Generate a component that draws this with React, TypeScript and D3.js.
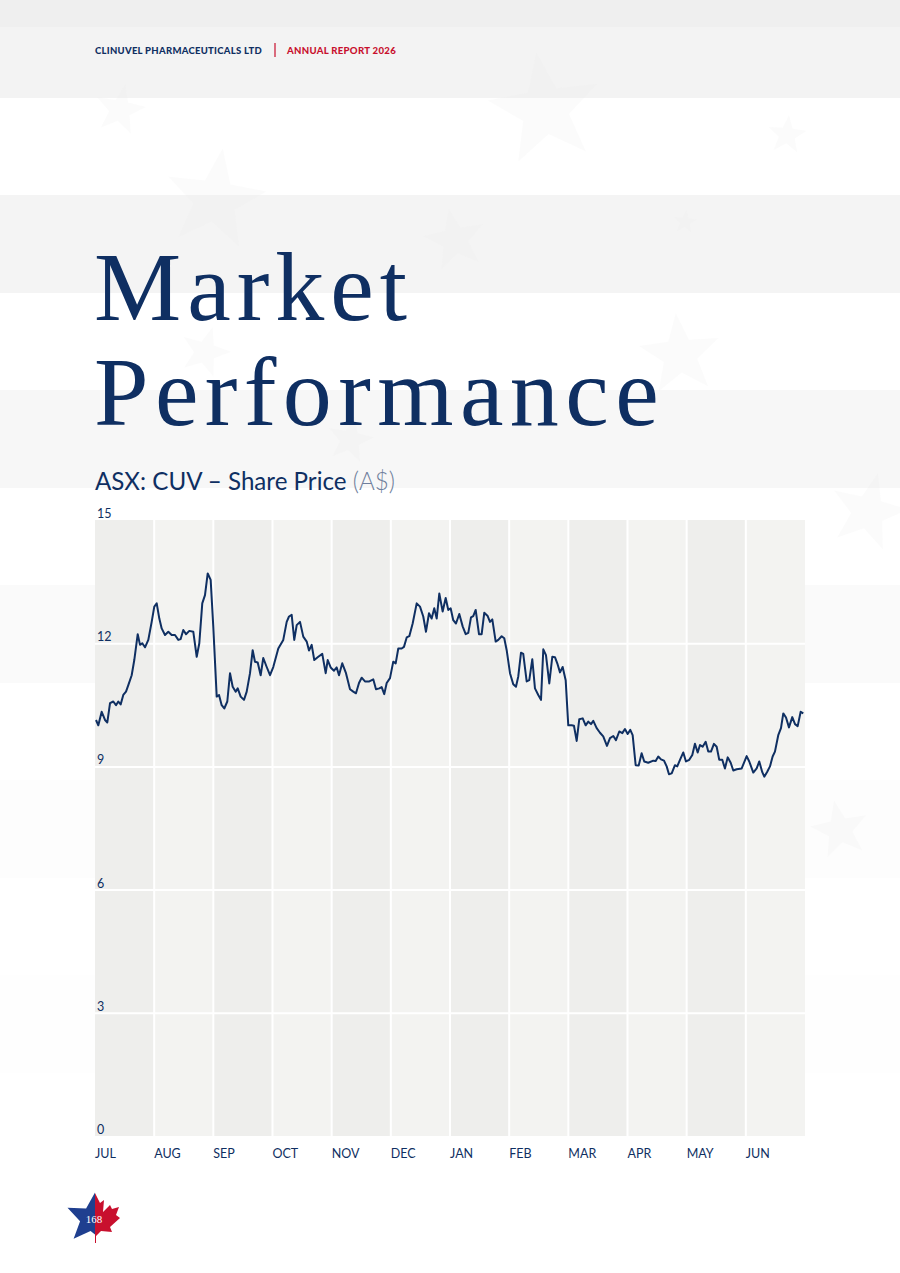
import * as d3 from "d3";

// x position in months from 1 July (0 = JUL, 12 = end of JUN), close price in A$
const tradeMonth = [
  0.017, 0.056, 0.113, 0.169, 0.208, 0.254, 0.309, 0.355, 0.394, 0.434, 0.478, 0.524, 0.563, 0.62, 0.664, 0.722,
  0.761, 0.799, 0.845, 0.901, 0.958, 1.002, 1.043, 1.087, 1.127, 1.183, 1.239, 1.296, 1.352, 1.408, 1.448, 1.492,
  1.538, 1.594, 1.661, 1.719, 1.763, 1.813, 1.859, 1.905, 1.955, 1.999, 2.057, 2.096, 2.141, 2.185, 2.236, 2.282,
  2.327, 2.378, 2.412, 2.462, 2.518, 2.564, 2.62, 2.665, 2.704, 2.75, 2.8, 2.844, 2.902, 2.958, 3.013, 3.098,
  3.182, 3.24, 3.279, 3.324, 3.368, 3.409, 3.465, 3.52, 3.578, 3.617, 3.662, 3.706, 3.774, 3.841, 3.899, 3.933,
  3.983, 4.039, 4.085, 4.124, 4.179, 4.242, 4.31, 4.365, 4.411, 4.462, 4.507, 4.563, 4.636, 4.703, 4.749, 4.805,
  4.845, 4.889, 4.93, 4.986, 5.041, 5.082, 5.126, 5.183, 5.222, 5.268, 5.312, 5.369, 5.437, 5.493, 5.548, 5.594,
  5.645, 5.69, 5.734, 5.775, 5.819, 5.876, 5.927, 5.971, 6.011, 6.055, 6.101, 6.157, 6.214, 6.265, 6.309, 6.355,
  6.393, 6.434, 6.49, 6.535, 6.579, 6.637, 6.676, 6.715, 6.772, 6.816, 6.873, 6.917, 6.958, 7.014, 7.069, 7.115,
  7.154, 7.2, 7.238, 7.296, 7.34, 7.391, 7.436, 7.492, 7.538, 7.577, 7.622, 7.678, 7.729, 7.774, 7.813, 7.859,
  7.904, 7.955, 7.999, 8.056, 8.095, 8.141, 8.185, 8.243, 8.293, 8.337, 8.383, 8.422, 8.479, 8.535, 8.59, 8.653,
  8.704, 8.76, 8.805, 8.861, 8.912, 8.957, 9.003, 9.047, 9.087, 9.138, 9.189, 9.239, 9.283, 9.351, 9.436, 9.476,
  9.52, 9.566, 9.617, 9.662, 9.701, 9.747, 9.802, 9.841, 9.887, 9.943, 9.988, 10.044, 10.095, 10.14, 10.186, 10.225,
  10.27, 10.321, 10.365, 10.411, 10.461, 10.507, 10.551, 10.602, 10.647, 10.693, 10.744, 10.788, 10.845, 10.93, 11.014, 11.058,
  11.126, 11.183, 11.227, 11.278, 11.312, 11.362, 11.408, 11.453, 11.492, 11.548, 11.594, 11.633, 11.679, 11.729, 11.785, 11.831,
  11.876, 11.927, 11.971
];

const closePrice = [
  10.13, 10.0, 10.33, 10.13, 10.07, 10.54, 10.58, 10.49, 10.58, 10.51, 10.74, 10.82, 10.98, 11.22, 11.59, 12.22,
  11.96, 12.0, 11.9, 12.08, 12.52, 12.89, 12.97, 12.6, 12.36, 12.2, 12.28, 12.2, 12.2, 12.08, 12.1, 12.32,
  12.22, 12.3, 12.28, 11.67, 12.0, 12.97, 13.17, 13.7, 13.54, 12.41, 10.7, 10.74, 10.49, 10.41, 10.58, 11.27,
  10.94, 10.82, 10.9, 10.7, 10.62, 10.82, 11.27, 11.83, 11.55, 11.53, 11.22, 11.64, 11.42, 11.22, 11.42, 11.87,
  12.08, 12.52, 12.65, 12.69, 12.08, 12.44, 12.52, 12.16, 12.04, 11.82, 11.96, 11.59, 11.67, 11.74, 11.27, 11.59,
  11.41, 11.33, 11.41, 11.22, 11.51, 11.27, 10.88, 10.82, 10.78, 11.03, 11.16, 11.07, 11.07, 11.12, 10.88, 10.9,
  10.93, 10.76, 11.03, 11.15, 11.55, 11.51, 11.87, 11.87, 11.91, 12.14, 12.17, 12.48, 12.97, 12.89, 12.65, 12.28,
  12.73, 12.6, 12.85, 12.6, 13.21, 12.77, 13.1, 12.81, 12.85, 12.56, 12.48, 12.71, 12.41, 12.22, 12.25, 12.63,
  12.66, 12.81, 12.22, 12.22, 12.74, 12.66, 12.52, 12.58, 12.04, 12.08, 12.17, 12.12, 11.83, 11.27, 11.0, 10.94,
  11.19, 11.77, 11.74, 11.07, 11.1, 11.61, 10.9, 10.74, 10.62, 11.85, 11.71, 11.02, 11.67, 11.66, 11.51, 11.29,
  11.42, 11.1, 10.0, 10.0, 9.99, 9.62, 10.15, 10.17, 10.0, 10.09, 10.03, 10.11, 9.93, 9.82, 9.73, 9.5,
  9.69, 9.74, 9.64, 9.85, 9.81, 9.91, 9.79, 9.89, 9.76, 9.03, 9.02, 9.32, 9.12, 9.09, 9.14, 9.13,
  9.24, 9.17, 9.14, 9.0, 8.81, 8.83, 9.03, 9.0, 9.16, 9.34, 9.12, 9.16, 9.28, 9.55, 9.34, 9.52,
  9.48, 9.6, 9.36, 9.36, 9.55, 9.48, 9.16, 9.16, 8.95, 9.22, 9.09, 8.9, 8.93, 8.95, 9.25, 9.12,
  8.85, 8.95, 9.12, 8.86, 8.75, 8.87, 9.0, 9.24, 9.36, 9.76, 9.93, 10.29, 10.19, 9.95, 10.2, 10.03,
  9.98, 10.33, 10.29
];

const monthLabels = ["JUL", "AUG", "SEP", "OCT", "NOV", "DEC", "JAN", "FEB", "MAR", "APR", "MAY", "JUN"];
const priceTicks = [0, 3, 6, 9, 12, 15];

const navy = "#0f2f62";
const red = "#c8102e";
const sans = "Lato, 'Noto Sans', sans-serif";

function starPoints(cx: number, cy: number, r: number, inner = 0.4, rot = 0) {
  const pts: [number, number][] = [];
  for (let i = 0; i < 10; i++) {
    const a = rot - Math.PI / 2 + (i * Math.PI) / 5;
    const rr = i % 2 === 0 ? r : r * inner;
    pts.push([cx + rr * Math.cos(a), cy + rr * Math.sin(a)]);
  }
  return pts.map((p) => p.join(",")).join(" ");
}

// faint background stars: [cx, cy, r, rotation]
const bgStars: [number, number, number, number][] = [
  [120, 110, 26, 0.2],
  [545, 110, 58, -0.15],
  [787, 135, 20, 0.1],
  [215, 200, 52, 0.15],
  [455, 240, 32, -0.2],
  [685, 222, 12, 0.1],
  [205, 352, 26, 0.3],
  [680, 355, 42, -0.1],
  [350, 440, 24, 0.2],
  [868, 512, 40, 0.25],
  [840, 830, 30, -0.2]
];

export default function App() {
  const width = 900;
  const height = 1273;
  const plot = { left: 95, right: 805, top: 520, bottom: 1136 };
  const x = d3.scaleLinear([0, 12], [plot.left, plot.right]);
  const y = d3.scaleLinear([0, 15], [plot.bottom, plot.top]);
  const points = tradeMonth.map((m, i) => ({ m, v: closePrice[i] }));
  const line = d3
    .line<(typeof points)[number]>()
    .x((p) => x(p.m))
    .y((p) => y(p.v))
    .curve(d3.curveLinear);

  const bands = [0, 1, 2, 3, 4, 5];
  const bandOpacity = [1, 0.9, 0.65, 0.45, 0.2, 0.08];

  return (
    <>
      <style>{"body{margin:0;background:#fff}"}</style>
      <svg width={width} height={height} viewBox={`0 0 ${width} ${height}`} style={{ display: "block" }}>
        <rect x="0" y="0" width={width} height={height} fill="#ffffff" />
        {bands.map((b) => (
          <rect key={b} x="0" y={b * 195} width={width} height="98" fill="#f3f3f3" opacity={bandOpacity[b]} />
        ))}
        <rect x="0" y="0" width={width} height="27" fill="#ededed" opacity="0.6" />
        {bgStars.map(([cx, cy, r, rot], i) => (
          <polygon key={i} points={starPoints(cx, cy, r, 0.42, rot)} fill="#ececec" opacity="0.22" />
        ))}

        {/* header */}
        <text x="95" y="54" fontFamily={sans} fontWeight="900" fontSize="10" fill={navy} letterSpacing="0.3" textLength="167" lengthAdjust="spacingAndGlyphs">
          CLINUVEL PHARMACEUTICALS LTD
        </text>
        <line x1="275" x2="275" y1="43" y2="57" stroke={red} strokeWidth="1.2" />
        <text x="287" y="54" fontFamily={sans} fontWeight="900" fontSize="10" fill={red} letterSpacing="0.3" textLength="109" lengthAdjust="spacingAndGlyphs">
          ANNUAL REPORT 2026
        </text>

        {/* title */}
        <text x="94" y="320" fontFamily="'Liberation Serif', serif" fontSize="98" fill={navy} letterSpacing="6">
          Market
        </text>
        <text x="94" y="425" fontFamily="'Liberation Serif', serif" fontSize="98" fill={navy} letterSpacing="6.4">
          Performance
        </text>
        <text x="95" y="490" fontFamily={sans} fontSize="24.5" fill={navy} textLength="300" lengthAdjust="spacingAndGlyphs">
          ASX: CUV – Share Price <tspan fill="#6f7f9c" fontWeight="300">(A$)</tspan>
        </text>

        {/* month columns */}
        {monthLabels.map((label, i) => (
          <rect
            key={label}
            x={x(i)}
            y={plot.top}
            width={x(i + 1) - x(i)}
            height={plot.bottom - plot.top}
            fill={i % 2 === 0 ? "#eeeeec" : "#f3f3f1"}
          />
        ))}
        {monthLabels.slice(1).map((label, i) => (
          <line key={label} x1={x(i + 1)} x2={x(i + 1)} y1={plot.top} y2={plot.bottom} stroke="#ffffff" strokeWidth="2" />
        ))}
        {priceTicks.slice(1, -1).map((tick) => (
          <line key={tick} x1={plot.left} x2={plot.right} y1={y(tick) + 0.5} y2={y(tick) + 0.5} stroke="#ffffff" strokeWidth="2" />
        ))}
        {priceTicks.map((tick) => (
          <text key={tick} x={plot.left + 2} y={y(tick) - 2} fontFamily={sans} fontSize="12.5" fill={navy}>
            {tick}
          </text>
        ))}
        {monthLabels.map((label, i) => (
          <text key={label} x={x(i)} y="1158" fontFamily={sans} fontSize="12.5" fill={navy}>
            {label}
          </text>
        ))}

        <path d={line(points) ?? undefined} fill="none" stroke={navy} strokeWidth="2" strokeLinejoin="round" />

        {/* page badge */}
        <defs>
          <clipPath id="left-half">
            <rect x="60" y="1185" width="35" height="65" />
          </clipPath>
        </defs>
        <polygon points={starPoints(92, 1219, 27, 0.45, 0.12)} fill="#1f3f8f" clipPath="url(#left-half)" />
        <path
          d="M95,1193 L100,1203 L104,1200 L103,1212 L110,1205 L112,1209 L119,1207 L116,1215 L120,1218 L110,1227 L112,1232 L101,1231 L96,1236 L96,1243 L95,1243 Z"
          fill="#c8102e"
        />
        <text x="94" y="1223" fontFamily="'Liberation Serif', serif" fontSize="11" fill="#ffffff" textAnchor="middle">
          168
        </text>
      </svg>
    </>
  );
}
